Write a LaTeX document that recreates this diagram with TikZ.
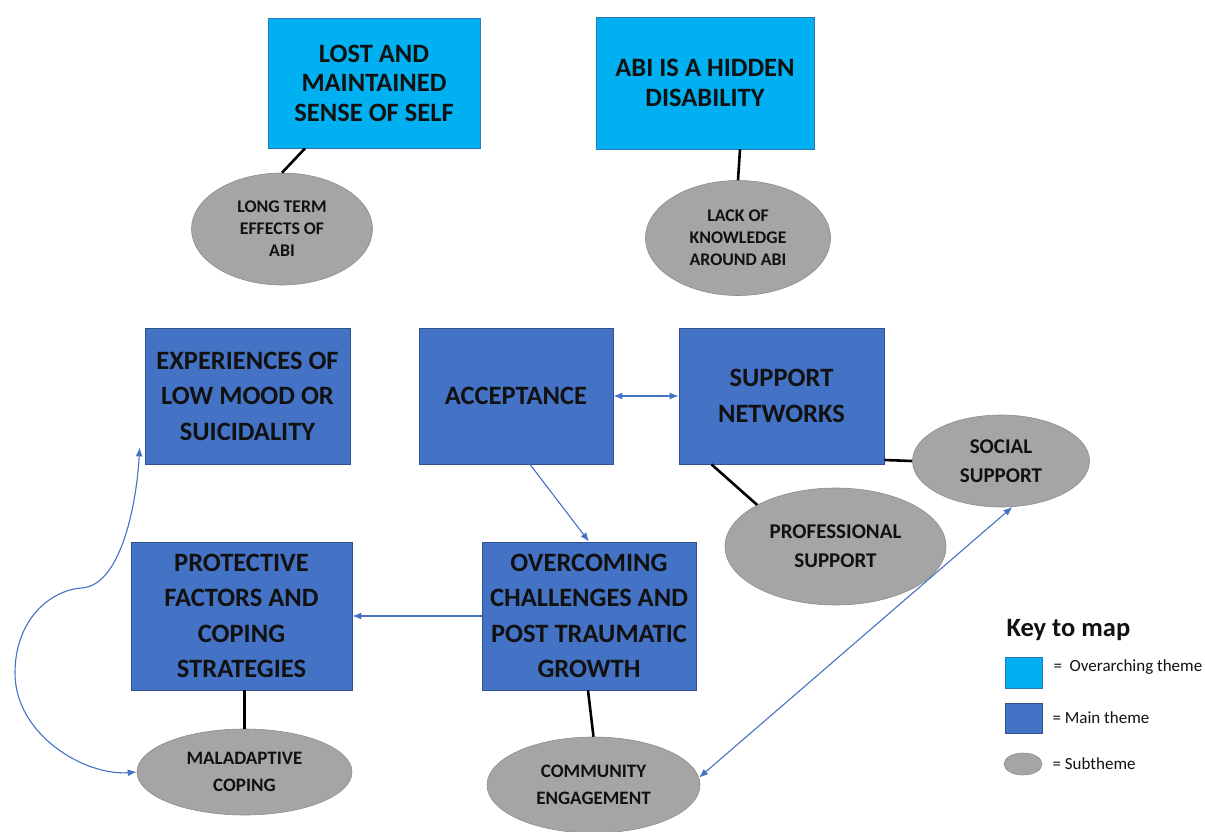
\documentclass[tikz,border=0pt]{standalone}
\usepackage{fontspec}
\setmainfont{Carlito}
\usetikzlibrary{arrows.meta,shapes.geometric}
\definecolor{lightb}{HTML}{00B0F0}
\definecolor{lightbd}{HTML}{2E75B6}
\definecolor{mainb}{HTML}{4472C4}
\definecolor{mainbd}{HTML}{2F528F}
\definecolor{subg}{HTML}{A5A5A5}
\definecolor{subgd}{HTML}{8C8C8C}
\definecolor{ink}{HTML}{111111}
\tikzset{
  over/.style={draw=lightbd, fill=lightb, line width=0.8pt, inner sep=0pt, align=center, text=ink,
    font=\bfseries\fontsize{26.5}{29.5}\selectfont},
  mainbox/.style={draw=mainbd, fill=mainb, line width=0.8pt, inner sep=0pt, align=center, text=ink,
    font=\bfseries\fontsize{26.5}{35.5}\selectfont},
  sub/.style={draw=subgd, fill=subg, ellipse, line width=0.6pt, inner sep=0pt, align=center, text=ink,
    font=\bfseries\fontsize{19}{27}\selectfont},
  subbig/.style={sub, font=\bfseries\fontsize{21}{29}\selectfont},
  subsmall/.style={sub, font=\bfseries\fontsize{17.8}{22}\selectfont},
  link/.style={black, line width=2.6pt},
  rel/.style={mainb, line width=1.1pt, -{Latex[length=9pt,width=7pt]}},
  birel/.style={mainb, line width=1.1pt, {Latex[length=9pt,width=7pt]}-{Latex[length=9pt,width=7pt]}},
  keytext/.style={anchor=west, text=ink, font=\fontsize{17}{20}\selectfont},
}
\begin{document}
\begin{tikzpicture}[x=1pt,y=-1pt]
\useasboundingbox (0,0) rectangle (1205,832);
% overarching
\node[over, minimum width=212pt, minimum height=130pt] (lost) at (374,83) {LOST AND\\MAINTAINED\\SENSE OF SELF};
\node[over, minimum width=218pt, minimum height=132pt] (hidden) at (705,83) {ABI IS A HIDDEN\\DISABILITY};
% subthemes top
\node[subsmall, minimum width=181pt, minimum height=112pt] (longterm) at (282,229) {LONG TERM\\EFFECTS OF\\ABI};
\node[subsmall, minimum width=185pt, minimum height=115pt] (lack) at (738,238) {LACK OF\\KNOWLEDGE\\AROUND ABI};
% main themes
\node[mainbox, minimum width=205pt, minimum height=136pt] (low) at (247.5,396) {EXPERIENCES OF\\LOW MOOD OR\\SUICIDALITY};
\node[mainbox, minimum width=194pt, minimum height=136pt] (accept) at (516,396) {ACCEPTANCE};
\node[mainbox, minimum width=205pt, minimum height=136pt] (support) at (781.5,396) {SUPPORT\\NETWORKS};
\node[mainbox, minimum width=221pt, minimum height=148pt] (protect) at (241.5,616) {PROTECTIVE\\FACTORS AND\\COPING\\STRATEGIES};
\node[mainbox, minimum width=214pt, minimum height=148pt] (overcome) at (589,616) {OVERCOMING\\CHALLENGES AND\\POST TRAUMATIC\\GROWTH};
% subthemes
\node[subbig, minimum width=177pt, minimum height=92pt] (social) at (1001,461) {SOCIAL\\SUPPORT};
\node[subbig, minimum width=221pt, minimum height=117pt] (prof) at (835.5,546.5) {PROFESSIONAL\\SUPPORT};
\node[sub, minimum width=215pt, minimum height=86pt] (mal) at (244.5,772) {MALADAPTIVE\\COPING};
\node[sub, minimum width=213pt, minimum height=96pt] (comm) at (593.5,785) {COMMUNITY\\ENGAGEMENT};
% links
\draw[link] ([xshift=-69pt]lost.south) -- (longterm.north);
\draw[link] ([xshift=35pt]hidden.south) -- (lack.north);
\draw[link] ([yshift=-64pt]support.east) -- (social.west);
\draw[link] ([xshift=-70pt]support.south) -- (prof.north west);
\draw[link] ([xshift=3pt]protect.south) -- (mal.north);
\draw[link] ([xshift=-1pt]overcome.south) -- (comm.north);
% relations
\draw[birel] (accept.east) -- (support.west);
\draw[rel] ([xshift=14pt]accept.south) -- (overcome.north);
\draw[rel] (overcome.west) -- (protect.east);
\draw[birel] (comm.4) -- (social.-76);
\coordinate (tip) at ([xshift=-5pt,yshift=17pt]low.south west);
\draw[birel] (mal.west) .. controls (85,776) and (15,735) .. (15,673)
  .. controls (15,620) and (50,590) .. (82,588)
  .. controls (122,585) and (137,500) .. (tip);
% key
\node[anchor=west, text=ink, font=\bfseries\fontsize{26.5}{30}\selectfont] (keyt) at (1003,630) {Key to map};
\node[draw=lightbd, fill=lightb, line width=0.8pt, minimum width=37pt, minimum height=31pt, inner sep=0pt] (k1) at (1023.5,672.5) {};
\node[keytext] (k1t) at (1050,667) {=\ \ Overarching theme};
\node[draw=mainbd, fill=mainb, line width=0.8pt, minimum width=37pt, minimum height=30pt, inner sep=0pt] (k2) at (1023.5,718) {};
\node[keytext] (k2t) at (1049,718) {= Main theme};
\node[draw=subgd, fill=subg, ellipse, line width=0.6pt, minimum width=38pt, minimum height=22pt, inner sep=0pt] (k3) at (1023,764) {};
\node[keytext] (k3t) at (1049,764) {= Subtheme};
\end{tikzpicture}
\end{document}
